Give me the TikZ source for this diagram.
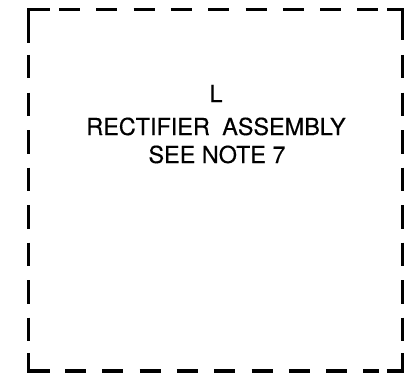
\documentclass[tikz,border=0pt]{standalone}
\usepackage{fontspec}
\setmainfont{TeX Gyre Heros}
\newfontfamily\letterfont{TeX Gyre Heros}[FakeBold=0.35]
\begin{document}
\begin{tikzpicture}[x=1bp,y=1bp,
  frame/.style={line width=3bp, line join=miter},
  hdash/.style={frame, dash pattern=on 21bp off 16.3bp},
  vdash/.style={frame, dash pattern=on 23.5bp off 14bp},
  label/.style={anchor=base, inner sep=0pt, font=\letterfont\fontsize{23.5}{28}\selectfont}]
\useasboundingbox (0,0) rectangle (409,380);
% corners
\draw[frame] (28,337) -- (28,370) -- (50,370);
\draw[frame] (387,370) -- (402,370) -- (402,340);
\draw[frame] (28,27) -- (28,9) -- (50,9);
\draw[frame] (387,9) -- (402,9) -- (402,27);
% dashed sides
\draw[hdash] (59,370) -- (379,370);
\draw[hdash] (65,9) -- (379,9);
\draw[vdash] (28,325) -- (28,37);
\draw[vdash] (402,325) -- (402,37);
% text
\node[label] (l) at (216,278) {L};
\node[label] (name) at (216,245) {RECTIFIER\hspace{0.25em} ASSEMBLY};
\node[label] (note) at (217,217) {SEE NOTE 7};
\end{tikzpicture}
\end{document}
